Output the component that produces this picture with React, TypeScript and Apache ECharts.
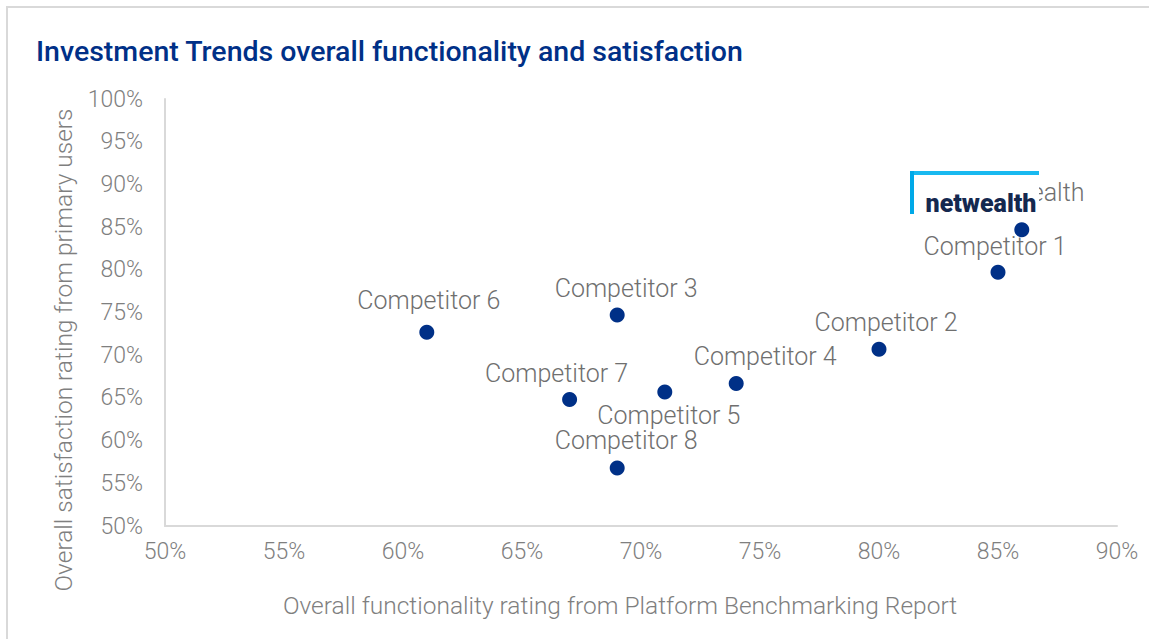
import React, { useEffect, useRef } from "react";
import * as echarts from "echarts";

const names = [
  "Netwealth",
  "Competitor 1",
  "Competitor 2",
  "Competitor 3",
  "Competitor 4",
  "Competitor 5",
  "Competitor 6",
  "Competitor 7",
  "Competitor 8",
];
const functionality = [86, 85, 80, 69, 74, 71, 61, 67, 69];
const satisfaction = [84.7, 79.7, 70.7, 74.7, 66.7, 65.7, 72.7, 64.8, 56.8];
const xTicks = [50, 90, 5];
const yTicks = [50, 100, 5];

const labelOffsets: [number, number][] = [
  [7, -12],
  [-3, -1],
  [7, -2],
  [9, -2],
  [29, -2],
  [4, -1],
  [2, -7],
  [-13, -1],
  [9, -2],
];
const labelPos = ["top", "top", "top", "top", "top", "bottom", "top", "top", "top"];

export default function App() {
  const ref = useRef<HTMLDivElement>(null);
  useEffect(() => {
    document.body.style.margin = "0";
    const chart = echarts.init(ref.current!, null, { renderer: "svg" });
    const font = "Roboto";
    const data = names.map((n, i) => ({
      name: n,
      value: [functionality[i], satisfaction[i]],
      label: {
        position: labelPos[i],
        offset: labelOffsets[i],
      },
    }));
    chart.setOption({
      animation: false,
      backgroundColor: "#ffffff",
      textStyle: { fontFamily: font },
      title: {
        text: "Investment Trends overall functionality and satisfaction",
        left: 31,
        top: 32,
        textStyle: {
          color: "#003087",
          fontSize: 28.5,
          fontWeight: 500,
          fontFamily: font,
        },
      },
      grid: { left: 165, right: 32, top: 99, bottom: 113, containLabel: false },
      xAxis: {
        type: "value",
        min: xTicks[0],
        max: xTicks[1],
        interval: xTicks[2],
        axisLine: { show: true, lineStyle: { color: "#d9d9d9", width: 2 } },
        axisTick: { show: false },
        splitLine: { show: false },
        axisLabel: {
          formatter: "{value}%",
          color: "#7f7f7f",
          fontSize: 23,
          fontWeight: 300,
          margin: 14,
          fontFamily: font,
        },
      },
      yAxis: {
        type: "value",
        min: yTicks[0],
        max: yTicks[1],
        interval: yTicks[2],
        axisLine: { show: true, lineStyle: { color: "#d9d9d9", width: 2 } },
        axisTick: { show: false },
        splitLine: { show: false },
        axisLabel: {
          formatter: "{value}%",
          color: "#7f7f7f",
          fontSize: 23,
          fontWeight: 300,
          margin: 22,
          fontFamily: font,
        },
      },
      series: [
        {
          type: "scatter",
          symbolSize: 15,
          itemStyle: { color: "#003087", opacity: 1 },
          data,
          label: {
            show: true,
            formatter: "{b}",
            color: "#6f6f6f",
            fontSize: 25,
            fontWeight: 300,
            fontFamily: font,
          },
        },
      ],
      graphic: [
        {
          type: "polyline",
          z: 1,
          silent: true,
          shape: { points: [[7, 700], [7, 7], [1200, 7]] },
          style: { stroke: "#d9d9d9", lineWidth: 2, fill: null },
        },
        {
          type: "text",
          z: 10,
          x: 63,
          y: 350,
          rotation: Math.PI / 2,
          style: {
            text: "Overall satisfaction rating from primary users",
            fill: "#7f7f7f",
            fontSize: 24.5,
            fontWeight: 300,
            fontFamily: font,
            align: "center",
            verticalAlign: "middle",
          },
        },
        {
          type: "text",
          z: 10,
          x: 620,
          y: 605,
          style: {
            text: "Overall functionality rating from Platform Benchmarking Report",
            fill: "#7f7f7f",
            fontSize: 24.5,
            fontWeight: 300,
            fontFamily: font,
            align: "center",
            verticalAlign: "middle",
          },
        },
        {
          type: "group",
          z: 100,
          children: [
            {
              type: "rect",
              z: 100,
              shape: { x: 910, y: 171, width: 129, height: 43 },
              style: { fill: "#ffffff" },
            },
            {
              type: "rect",
              z: 101,
              shape: { x: 910, y: 171, width: 129, height: 4 },
              style: { fill: "#19b9f0" },
            },
            {
              type: "rect",
              z: 101,
              shape: { x: 910, y: 171, width: 4, height: 43 },
              style: { fill: "#00a9e8" },
            },
            {
              type: "text",
              z: 102,
              x: 981,
              y: 203,
              style: {
                text: "netwealth",
                fill: "#14284f",
                fontSize: 25,
                fontWeight: 900,
                fontFamily: font,
                align: "center",
                verticalAlign: "middle",
              },
            },
          ],
        },
      ],
    });
    return () => chart.dispose();
  }, []);
  return (
    <div
      ref={ref}
      style={{ position: "absolute", left: 0, top: 0, width: 1149, height: 639 }}
    />
  );
}
